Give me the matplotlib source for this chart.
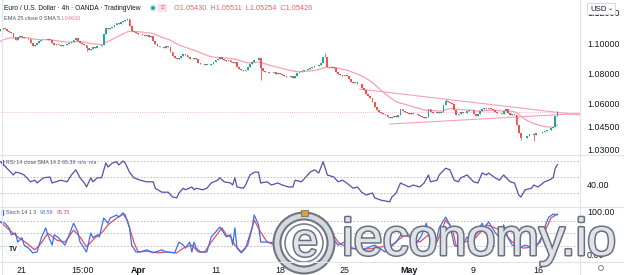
import matplotlib
matplotlib.use('Agg')
import matplotlib.pyplot as plt
import numpy as np
import pandas as pd
from matplotlib.patches import Circle, Rectangle, FancyBboxPatch
from matplotlib.lines import Line2D
import matplotlib.patheffects as pe

plt.rcParams['font.family'] = ['Liberation Sans', 'DejaVu Sans']

# ---------------- data ----------------
first_open = 1.1080
closes = [
    1.1092, 1.1100, 1.1095, 1.1078, 1.1072, 1.1066, 1.1040, 1.1022, 1.1038, 1.1045,
    1.1040, 1.1030, 1.1035, 1.1026, 1.1000, 1.0982, 1.0990, 1.1002, 1.1010, 1.1018,
    1.1022, 1.1018, 1.1025, 1.1020, 1.1000, 1.0985, 1.0992, 1.0986, 1.0980, 1.0990,
    1.0984, 1.0995, 1.1003, 1.1008, 1.1020, 1.1032, 1.1012, 1.1000, 1.0992, 1.0985,
    1.0965, 1.0955, 1.0962, 1.0975, 1.0970, 1.0980, 1.0978, 1.0988, 1.1060, 1.1098,
    1.1092, 1.1100, 1.1105, 1.1118, 1.1130, 1.1125, 1.1138, 1.1145, 1.1152, 1.1155,
    1.1110, 1.1080, 1.1070, 1.1068, 1.1062, 1.1058, 1.1050, 1.1045, 1.1052, 1.1040,
    1.1044, 1.1015, 1.0995, 1.0978, 1.0972, 1.0976, 1.0970, 1.0978, 1.0972, 1.0940,
    1.0915, 1.0902, 1.0898, 1.0904, 1.0912, 1.0925, 1.0918, 1.0905, 1.0898, 1.0892,
    1.0900, 1.0895, 1.0870, 1.0860, 1.0862, 1.0856, 1.0858, 1.0852, 1.0860, 1.0875,
    1.0888, 1.0895, 1.0905, 1.0892, 1.0885, 1.0880, 1.0886, 1.0878, 1.0870, 1.0872,
    1.0845, 1.0830, 1.0825, 1.0818, 1.0822, 1.0840, 1.0862, 1.0878, 1.0885, 1.0890,
    1.0902, 1.0838, 1.0815, 1.0808, 1.0812, 1.0805, 1.0800, 1.0806, 1.0798, 1.0802,
    1.0795, 1.0790, 1.0785, 1.0778, 1.0775, 1.0780, 1.0772, 1.0785, 1.0800, 1.0808,
    1.0815, 1.0825, 1.0822, 1.0830, 1.0835, 1.0842, 1.0850, 1.0848, 1.0855, 1.0870,
    1.0910, 1.0905, 1.0840, 1.0838, 1.0845, 1.0835, 1.0812, 1.0798, 1.0790, 1.0782,
    1.0792, 1.0786, 1.0760, 1.0742, 1.0735, 1.0742, 1.0728, 1.0730, 1.0705, 1.0690,
    1.0665, 1.0650, 1.0640, 1.0610, 1.0582, 1.0560, 1.0548, 1.0540, 1.0535, 1.0528,
    1.0515, 1.0505, 1.0512, 1.0518, 1.0515, 1.0525, 1.0565, 1.0552, 1.0545, 1.0538,
    1.0532, 1.0540, 1.0530, 1.0535, 1.0528, 1.0520, 1.0510, 1.0505, 1.0515, 1.0568,
    1.0548, 1.0542, 1.0538, 1.0545, 1.0540, 1.0548, 1.0595, 1.0620, 1.0612, 1.0605,
    1.0598, 1.0560, 1.0525, 1.0535, 1.0545, 1.0538, 1.0542, 1.0552, 1.0562, 1.0558,
    1.0535, 1.0522, 1.0530, 1.0555, 1.0565, 1.0570, 1.0566, 1.0572, 1.0568, 1.0560,
    1.0545, 1.0538, 1.0542, 1.0536, 1.0555, 1.0568, 1.0540, 1.0528, 1.0532, 1.0525,
    1.0462, 1.0405, 1.0372, 1.0378, 1.0375, 1.0390, 1.0398, 1.0402, 1.0395, 1.0405,
    1.0410, 1.0406, 1.0415, 1.0420, 1.0428, 1.0425, 1.0438, 1.0450, 1.0520, 1.0543,
]
wick_high = {59: 1.1165, 151: 1.0935, 207: 1.0630, 259: 1.0553, 120: 1.0908}
wick_low = {121: 1.0757, 242: 1.0362, 248: 1.0355, 40: 1.0950}
ema_seed = 1.1005
ema_span = 25

trend_upper_idx = [167, 269.5]
trend_upper_val = [1.0697, 1.0526]
trend_lower_idx = [181, 269.5]
trend_lower_val = [1.0467, 1.0536]

rsi_idx = [0, 3, 6, 7, 9, 11, 14, 16, 17, 20, 23, 24, 28, 31, 33, 35, 37, 39, 40, 42,
           43, 45, 47, 49, 50, 52, 54, 55, 57, 58, 60, 62, 65, 68, 71, 72, 75, 78, 80, 82,
           83, 85, 86, 89, 90, 91, 94, 96, 98, 101, 102, 104, 107, 108, 109, 110, 113, 114, 116, 118,
           120, 121, 124, 126, 129, 131, 134, 136, 137, 140, 142, 144, 146, 148, 150, 151, 152, 155, 157, 159,
           161, 164, 166, 168, 170, 173, 174, 177, 181, 182, 184, 186, 188, 190, 192, 195, 197, 199, 200, 203,
           204, 207, 209, 211, 213, 214, 217, 220, 222, 224, 226, 227, 230, 232, 234, 237, 239, 241, 242, 244,
           247, 248, 250, 253, 255, 257, 258, 259]
rsi_val = [69, 61, 52.5, 56, 55, 52.5, 44, 46, 42.5, 49, 50, 42.5, 46, 44, 52.5, 59, 49, 42.5, 37.5, 49,
           44, 49, 49, 67.5, 62.5, 67.5, 69, 65, 70, 67.5, 56, 49, 46, 44, 44, 36, 31, 31, 25, 24,
           30, 36, 34, 37.5, 34, 36, 34, 36, 42.5, 46, 49, 44, 42.5, 40, 49, 37.5, 36, 40, 52.5, 56,
           56, 42.5, 44, 40, 42.5, 40, 37.5, 37.5, 46, 44, 50, 56, 59, 55, 69, 61, 52.5, 50, 44, 46,
           42.5, 36, 37.5, 31, 27.5, 30, 24, 21, 19, 25, 30, 42.5, 40, 37.5, 40, 37.5, 42.5, 52.5, 44, 46,
           52.5, 61, 59, 46, 44, 49, 52.5, 44, 42.5, 55, 52.5, 55, 49, 46, 52.5, 44, 42.5, 27.5, 25, 34,
           36, 40, 37.5, 44, 46, 49, 61, 65.39]

k_idx = [0, 2, 4, 5, 7, 8, 10, 11, 13, 15, 17, 19, 21, 22, 24, 25, 27, 29, 30, 32,
         34, 36, 37, 38, 40, 42, 43, 45, 46, 48, 50, 51, 54, 55, 57, 58, 60, 61, 63, 65,
         68, 71, 75, 77, 81, 83, 85, 86, 88, 89, 90, 91, 93, 96, 98, 100, 102, 103, 105, 107,
         108, 109, 110, 112, 114, 117, 118, 120, 121, 124, 128, 132, 137, 139, 143, 146, 149, 151, 154, 157,
         160, 162, 168, 174, 179, 184, 187, 190, 193, 196, 198, 200, 202, 204, 207, 209, 211, 214, 217, 219,
         221, 224, 225, 227, 230, 232, 234, 236, 238, 241, 244, 248, 251, 254, 255, 257, 259]
k_val = [77, 74, 63, 47, 51, 30, 40, 23, 16, 5, 7, 40, 63, 47, 23, 47, 40, 28, 23, 47,
         74, 53, 30, 23, 7, 51, 40, 47, 42, 86, 74, 86, 93, 88, 98, 93, 63, 23, 7, 7,
         12, 5, 12, 7, 5, 30, 23, 16, 30, 7, 30, 16, 7, 7, 42, 53, 65, 58, 42, 47,
         23, 63, 16, 5, 16, 63, 93, 70, 30, 30, 23, 30, 77, 63, 70, 81, 77, 63, 42, 23,
         30, 16, 12, 23, 7, 30, 53, 47, 23, 47, 74, 30, 16, 63, 88, 70, 23, 16, 42, 30,
         47, 74, 63, 77, 53, 40, 70, 40, 23, 16, 23, 16, 30, 77, 88, 95, 93.59]

d_idx = [0, 3, 8, 12, 16, 19, 22, 26, 30, 34, 37, 40, 44, 47, 50, 54, 57, 59, 62, 64,
         68, 73, 77, 82, 85, 89, 92, 95, 98, 103, 105, 107, 109, 112, 115, 118, 121, 124, 129, 134,
         138, 144, 149, 154, 157, 159, 167, 174, 182, 188, 195, 199, 203, 207, 210, 212, 216, 221, 226, 230,
         234, 238, 243, 249, 253, 256, 259]
d_val = [77, 63, 42, 28, 12, 28, 51, 35, 30, 58, 42, 19, 40, 51, 70, 86, 95, 81, 30, 7,
         9, 5, 7, 5, 16, 23, 7, 7, 30, 63, 47, 42, 23, 7, 23, 81, 53, 30, 28, 30,
         63, 74, 77, 53, 30, 23, 12, 16, 23, 47, 30, 47, 30, 81, 63, 20, 30, 40, 70, 63,
         53, 30, 16, 19, 53, 86, 95.35]

tick_idx = [10, 38, 64, 100, 130, 160, 190, 220, 250]
tick_lbl = ['21', '15:00', 'Apr', '11', '18', '25', 'May', '9', '16']
month_lbls = {'Apr', 'May'}

price_ticks = [1.12, 1.10, 1.08, 1.06, 1.045, 1.03]
rsi_levels = [70, 50, 30]
stoch_levels = [80, 50, 20]

ohlc_text = 'O1.05430  H1.05511  L1.05254  C1.05426'

# ---------------- styles ----------------
W, H = 624, 275
GREEN = '#26a69a'
RED = '#ef5350'
PINK = '#f5a0b8'
TXT = '#131722'
GRAYTXT = '#50535e'
SEP = '#e0e3eb'

fig = plt.figure(figsize=(W / 100, H / 100), dpi=100)
fig.patch.set_facecolor('white')


def px_axes(x0, y0, x1, y1):
    return fig.add_axes([x0 / W, 1 - y1 / H, (x1 - x0) / W, (y1 - y0) / H])


ax_p = px_axes(0, 0, 580, 155)
ax_r = px_axes(0, 155, 580, 207)
ax_s = px_axes(0, 207, 580, 262)
XL = (-0.23, 269.5)
for a in (ax_p, ax_r, ax_s):
    a.set_xlim(*XL)
    for s in a.spines.values():
        s.set_visible(False)
    a.yaxis.tick_right()
    a.tick_params(axis='y', length=0, pad=5, labelsize=6.4, labelcolor=TXT)
    a.set_facecolor('none')
ax_p.set_xticks([])
ax_r.set_xticks([])

# ---- price pane ----
c = np.array(closes)
o = np.array([first_open] + closes[:-1])
idx = np.arange(len(c))
colors = np.where(c >= o, GREEN, RED)
body_lo = np.minimum(o, c)
body_hi = np.maximum(o, c)
hi = body_hi.copy()
lo = body_lo.copy()
for k, v in wick_high.items():
    hi[k] = max(hi[k], v)
for k, v in wick_low.items():
    lo[k] = min(lo[k], v)
ax_p.vlines(idx, lo, hi, colors=colors, lw=0.6, zorder=3)
ax_p.bar(idx, np.maximum(body_hi - body_lo, 0.0003), bottom=body_lo, width=0.8,
         color=colors, lw=0, zorder=3)

ema = pd.Series([ema_seed] + closes).ewm(span=ema_span, adjust=False).mean().values[1:]
ax_p.plot(idx, ema, color=PINK, lw=0.9, zorder=2)
ax_p.plot(trend_upper_idx, trend_upper_val, color=PINK, lw=0.8, zorder=2)
ax_p.plot(trend_lower_idx, trend_lower_val, color=PINK, lw=0.8, zorder=2)
ax_p.axhline(closes[-1], color='#f4a7b6', lw=0.6, ls=(0, (1, 1.5)), zorder=1)

ax_p.set_ylim(1.0263, 1.1283)
ax_p.set_yticks(price_ticks)
ax_p.set_yticklabels(['%.5f' % v for v in price_ticks])

# ---- RSI pane ----
ax_r.plot(rsi_idx, rsi_val, color='#5e4aad', lw=0.9, zorder=3)
for lv in rsi_levels:
    ax_r.axhline(lv, color='#b2b5be', lw=0.6, ls=(0, (2, 2)), zorder=1)
ax_r.set_ylim(12.5, 77.5)
ax_r.set_yticks([40])
ax_r.set_yticklabels(['40.00'])

# ---- Stoch pane ----
ax_s.plot(d_idx, d_val, color='#f0475a', lw=0.9, zorder=3)
ax_s.plot(k_idx, k_val, color='#3d6ef5', lw=0.9, zorder=4)
for lv in stoch_levels:
    ax_s.axhline(lv, color='#b2b5be', lw=0.6, ls=(0, (2, 2)), zorder=1)
ax_s.set_ylim(-16.3, 111.6)
ax_s.set_yticks([100, 0])
ax_s.set_yticklabels(['100.00', '0.00'])
ax_s.set_xticks(tick_idx)
ax_s.set_xticklabels(tick_lbl)
ax_s.tick_params(axis='x', length=0, pad=3, labelsize=6.4, labelcolor=TXT)
for t in ax_s.get_xticklabels():
    if t.get_text() in month_lbls:
        t.set_fontweight('bold')

# ---------------- overlay (pixel coords) ----------------
ov = fig.add_axes([0, 0, 1, 1], zorder=10)
ov.set_xlim(0, W)
ov.set_ylim(H, 0)
ov.axis('off')
ov.patch.set_alpha(0)

# separators
for y in (155, 207, 262):
    ov.add_line(Line2D([0, W], [y, y], color=SEP, lw=0.8))
ov.add_line(Line2D([580, 580], [0, H], color=SEP, lw=0.8))
ov.add_line(Line2D([1.5, 1.5], [0, H], color=SEP, lw=0.8))

# header texts
ov.text(4, 8, 'Euro / U.S. Dollar · 4h · OANDA · TradingView', fontsize=4.8,
        color=TXT, va='center', ha='left')
ov.add_patch(Circle((153, 8), 3.2, color='#d9f2ee'))
ov.add_patch(Circle((153, 8), 1.3, color=GREEN))
ov.add_patch(FancyBboxPatch((159, 5), 7, 6, boxstyle='round,pad=0.3', color='#fbe0e6'))
ov.text(162.5, 8.2, '≡', fontsize=4.5, color='#ef5a73', ha='center', va='center')
ov.text(174, 8, ohlc_text, fontsize=5.3, color='#f0606f', va='center', ha='left')
ov.text(4, 19, 'EMA 25 close 0 SMA 5', fontsize=4.0, color=GRAYTXT, va='center', ha='left')
ov.text(61, 19, '1.04633', fontsize=4.0, color='#f27a96', va='center', ha='left')

ov.text(6, 163, 'RSI 14 close SMA 14 2', fontsize=3.8, color=GRAYTXT, va='center', ha='left')
ov.text(62, 163, '65.39  n/a  n/a', fontsize=3.8, color='#5e4aad', va='center', ha='left')
ov.add_patch(Rectangle((1.5, 160), 1.2, 5, color='#5e4aad'))

ov.text(6, 213, 'Stoch 14 1 3', fontsize=3.9, color=GRAYTXT, va='center', ha='left')
ov.text(40, 213, '93.59', fontsize=3.9, color='#3d6ef5', va='center', ha='left')
ov.text(57, 213, '95.35', fontsize=3.9, color='#f0475a', va='center', ha='left')
ov.add_patch(Rectangle((1.5, 210), 1.2, 5, color='#3d6ef5'))

# USD box (covers the top price label as in the reference)
ov.add_patch(FancyBboxPatch((588, 4), 27, 10, boxstyle='round,pad=0.6',
                            fc='white', ec='#d1d4dc', lw=0.6, zorder=5))
ov.text(599, 9.2, 'USD', fontsize=5.6, color=TXT, ha='center', va='center', zorder=6)
ov.text(610, 8.5, '⌄', fontsize=4.5, color=TXT, ha='center', va='center', zorder=6)
ov.add_patch(Circle((601, 268), 2.4, fill=False, ec='#6a6d78', lw=0.6))

# TradingView logo
ov.add_patch(Circle((13, 249), 7, fc='white', ec='#e6e8ee', lw=0.6))
ov.text(13, 249.5, 'TV', fontsize=5, fontweight='bold', color=TXT, ha='center', va='center')

# watermark logo + text
ov.add_patch(Circle((304, 243), 27, fc='white', ec='#6f7480', lw=6.5))
ov.add_patch(Circle((304, 243), 27, fill=False, ec='#d4d7de', lw=3.5))
ov.add_patch(Circle((304, 243), 19, fc='white', ec='#7d818c', lw=1.2))
ov.text(305, 244, 'e', fontsize=34, color='#dfe2e8', ha='center', va='center',
        path_effects=[pe.withStroke(linewidth=2.2, foreground='#6b7080')])
ov.add_patch(Rectangle((301, 210), 7, 6, fc='#d9a520', ec='#6b7080', lw=0.6))
ov.text(342, 255, 'ieconomy.io', fontsize=37.5, color='#dfe2e8', ha='left', va='baseline',
        path_effects=[pe.withStroke(linewidth=2.2, foreground='#6b7080')])

fig.savefig('out.png', dpi=100, facecolor='white')
